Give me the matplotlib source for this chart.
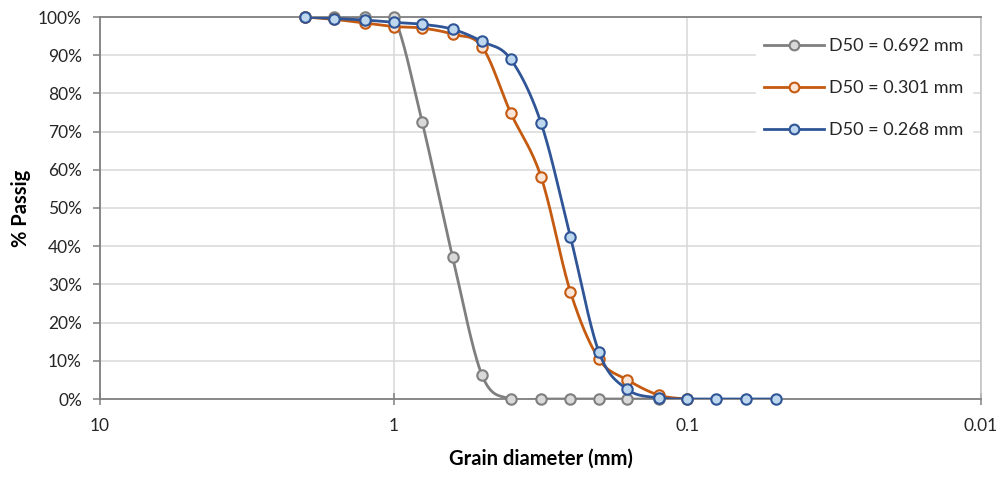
"""Grain-size distribution curves (percent passing vs sieve size)."""

import numpy as np
import matplotlib
matplotlib.use("Agg")
import matplotlib.pyplot as plt
from matplotlib.ticker import FixedLocator, FixedFormatter, NullLocator
from matplotlib.lines import Line2D

plt.rcParams["font.family"] = ["Lato", "DejaVu Sans"]

# sieve openings [mm]
SIEVE = [2, 1.6, 1.25, 1, 0.8, 0.63, 0.5, 0.4, 0.315, 0.25, 0.2,
         0.16, 0.125, 0.1, 0.08, 0.063, 0.05]

# percent passing per sample
PASS_692 = [100, 100, 100, 100, 72.5, 37.2, 6.2, 0, 0, 0, 0, 0, 0]
PASS_301 = [100, 99.4, 98.4, 97.5, 97.1, 95.5, 92.2, 75, 58.2, 28, 10.5,
            5, 1, 0]
PASS_268 = [100, 99.6, 99.2, 98.6, 98.1, 96.8, 93.6, 89, 72.3, 42.4, 12.3,
            2.5, 0.3, 0, 0, 0, 0]

LABELS = ["D50 = 0.692 mm", "D50 = 0.301 mm", "D50 = 0.268 mm"]
LINE_COLORS = ["#7F7F7F", "#C55A11", "#2F5597"]
FACE_COLORS = ["#D9D9D9", "#FBE5D6", "#BDD7EE"]

X_TICKS = [10, 1, 0.1, 0.01]
Y_TICKS = list(range(0, 101, 10))


def smooth(xs, ys, n=30):
    """Excel-like smoothed line (Catmull-Rom) in log-x space."""
    lx = np.log10(np.asarray(xs, float))
    y = np.asarray(ys, float)
    px, py = [], []
    m = len(lx)
    for i in range(m - 1):
        x0, y0 = (lx[i - 1], y[i - 1]) if i > 0 else (lx[i], y[i])
        x1, y1 = lx[i], y[i]
        x2, y2 = lx[i + 1], y[i + 1]
        x3, y3 = (lx[i + 2], y[i + 2]) if i + 2 < m else (x2, y2)
        # bezier control points
        c1x, c1y = x1 + (x2 - x0) / 6, y1 + (y2 - y0) / 6
        c2x, c2y = x2 - (x3 - x1) / 6, y2 - (y3 - y1) / 6
        t = np.linspace(0, 1, n)
        a, b, c, d = (1 - t) ** 3, 3 * t * (1 - t) ** 2, 3 * t ** 2 * (1 - t), t ** 3
        px.extend(a * x1 + b * c1x + c * c2x + d * x2)
        py.extend(a * y1 + b * c1y + c * c2y + d * y2)
    return 10 ** np.array(px), np.array(py)


def main():
    fig = plt.figure(figsize=(10.06, 4.78), dpi=100)
    ax = fig.add_axes([100 / 1006, 79 / 478, 881 / 1006, 382 / 478])

    series = [PASS_692, PASS_301, PASS_268]
    for k, ys in enumerate(series):
        xs = SIEVE[:len(ys)]
        sx, sy = smooth(xs, ys)
        ax.plot(sx, sy, color=LINE_COLORS[k], linewidth=2.0, zorder=3 + k,
                solid_capstyle="round")
        ax.plot(xs, ys, "o", color=LINE_COLORS[k], markerfacecolor=FACE_COLORS[k],
                markersize=7.5, markeredgewidth=1.5, zorder=3 + k, clip_on=False)

    ax.set_xscale("log")
    ax.set_xlim(10, 0.01)
    ax.set_ylim(0, 100)
    ax.xaxis.set_major_locator(FixedLocator(X_TICKS))
    ax.xaxis.set_major_formatter(FixedFormatter([str(v) for v in X_TICKS]))
    ax.xaxis.set_minor_locator(NullLocator())
    ax.yaxis.set_major_locator(FixedLocator(Y_TICKS))
    ax.yaxis.set_major_formatter(FixedFormatter([f"{v}%" for v in Y_TICKS]))

    ax.grid(color="#D9D9D9", linewidth=1.1)
    ax.set_axisbelow(True)
    for side in ["left", "bottom", "top"]:
        ax.spines[side].set_color("#808080")
        ax.spines[side].set_linewidth(1.3)
    ax.spines["right"].set_color("#BFBFBF")
    ax.spines["right"].set_linewidth(1.1)

    ax.tick_params(axis="y", direction="out", length=5, width=1.1, color="#808080",
                   labelsize=12.5, labelcolor="#262626", pad=8)
    ax.tick_params(axis="x", direction="inout", length=9, width=1.1, color="#808080",
                   labelsize=12.5, labelcolor="#262626", pad=9)

    ax.set_xlabel("Grain diameter (mm)", fontsize=14.5, fontweight="bold", labelpad=11)
    ax.set_ylabel("% Passig", fontsize=14.5, fontweight="bold", labelpad=5)

    handles = [Line2D([0], [0], color=LINE_COLORS[k], linewidth=2.0, marker="o",
                      markerfacecolor=FACE_COLORS[k], markersize=7,
                      markeredgewidth=1.5) for k in range(3)]
    leg = ax.legend(handles, LABELS, loc="upper right", bbox_to_anchor=(1.0, 0.99),
                    frameon=True, fontsize=13, handlelength=3.3, labelspacing=1.45,
                    borderpad=0.45, handletextpad=0.3, fancybox=False)
    leg.get_frame().set_edgecolor("white")
    leg.get_frame().set_facecolor("white")
    leg.get_frame().set_alpha(1)
    for t in leg.get_texts():
        t.set_color("#262626")

    fig.savefig("out.png", dpi=100)
    plt.close(fig)


if __name__ == "__main__":
    main()
